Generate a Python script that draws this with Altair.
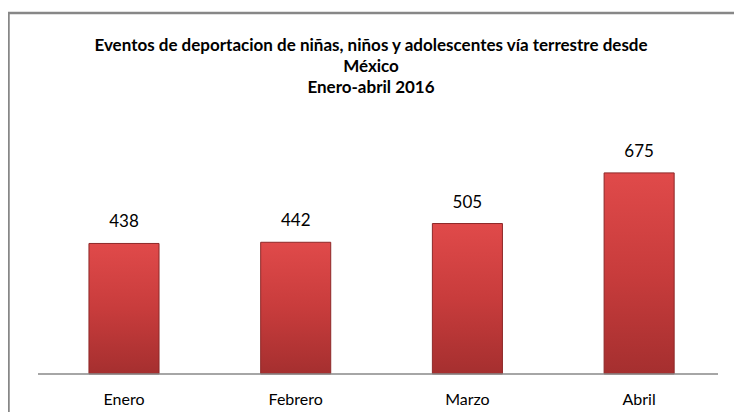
import altair as alt
import pandas as pd

meses = ["Enero", "Febrero", "Marzo", "Abril"]
eventos = [438, 442, 505, 675]

titulo = [
    "Eventos de deportacion de niñas, niños y adolescentes vía terrestre desde",
    "México",
    "Enero-abril 2016",
]

df = pd.DataFrame({"mes": meses, "eventos": eventos})
base_df = pd.DataFrame({"cero": [0]})

FONT = "Lato"
W, H = 726, 399

x_enc = alt.X(
    "mes:N",
    sort=meses,
    scale=alt.Scale(paddingInner=0.592, paddingOuter=0.41, align=0.575),
    axis=alt.Axis(
        title=None,
        domain=False,
        ticks=False,
        labelAngle=0,
        labelPadding=17,
        offset=-38,
        labelFont=FONT,
        labelFontSize=16,
        labelColor="#000000",
    ),
)
y_scale = alt.Scale(domain=[-128, 1212], nice=False, zero=False)

bars = alt.Chart(df).mark_bar(
    color=alt.Gradient(
        gradient="linear",
        x1=0, x2=0, y1=0, y2=1,
        stops=[
            alt.GradientStop(color="#e04a4a", offset=0),
            alt.GradientStop(color="#c83c3c", offset=0.5),
            alt.GradientStop(color="#a52f2f", offset=1),
        ],
    ),
    stroke="#8e2828",
    strokeWidth=1,
).encode(
    x=x_enc,
    y=alt.Y("eventos:Q", scale=y_scale, axis=None),
)

labels = alt.Chart(df).mark_text(
    baseline="alphabetic", dy=-16, font=FONT, fontSize=17, color="#000000"
).encode(
    x=alt.X("mes:N", sort=meses),
    y=alt.Y("eventos:Q", axis=None),
    text=alt.Text("eventos:Q"),
)

baseline = alt.Chart(base_df).mark_rule(color="#888888", strokeWidth=1.5).encode(
    y=alt.Y("cero:Q", axis=None),
    x=alt.value(30),
    x2=alt.value(710),
)

frame_top = alt.Chart(base_df).mark_rule(color="#878787", strokeWidth=2.5).encode(
    x=alt.value(0), x2=alt.value(W), y=alt.value(0), y2=alt.value(0)
)
frame_left = alt.Chart(base_df).mark_rule(color="#878787", strokeWidth=2.5).encode(
    x=alt.value(0.5), x2=alt.value(0.5), y=alt.value(0), y2=alt.value(H)
)

chart = alt.layer(frame_top, frame_left, bars, baseline, labels).properties(
    width=W,
    height=H,
    title=alt.TitleParams(
        text=titulo,
        anchor="middle",
        orient="top",
        offset=-85,
        font=FONT,
        fontSize=17,
        fontWeight="bold",
        lineHeight=21,
        color="#000000",
        frame="group",
    ),
    autosize=alt.AutoSizeParams(type="none"),
    padding={"top": 5, "left": 0, "right": 0, "bottom": 0},
).configure_view(
    stroke="transparent"
).configure(background="#ffffff")

chart.save("out.html", embed_options={"renderer": "svg", "actions": False})
